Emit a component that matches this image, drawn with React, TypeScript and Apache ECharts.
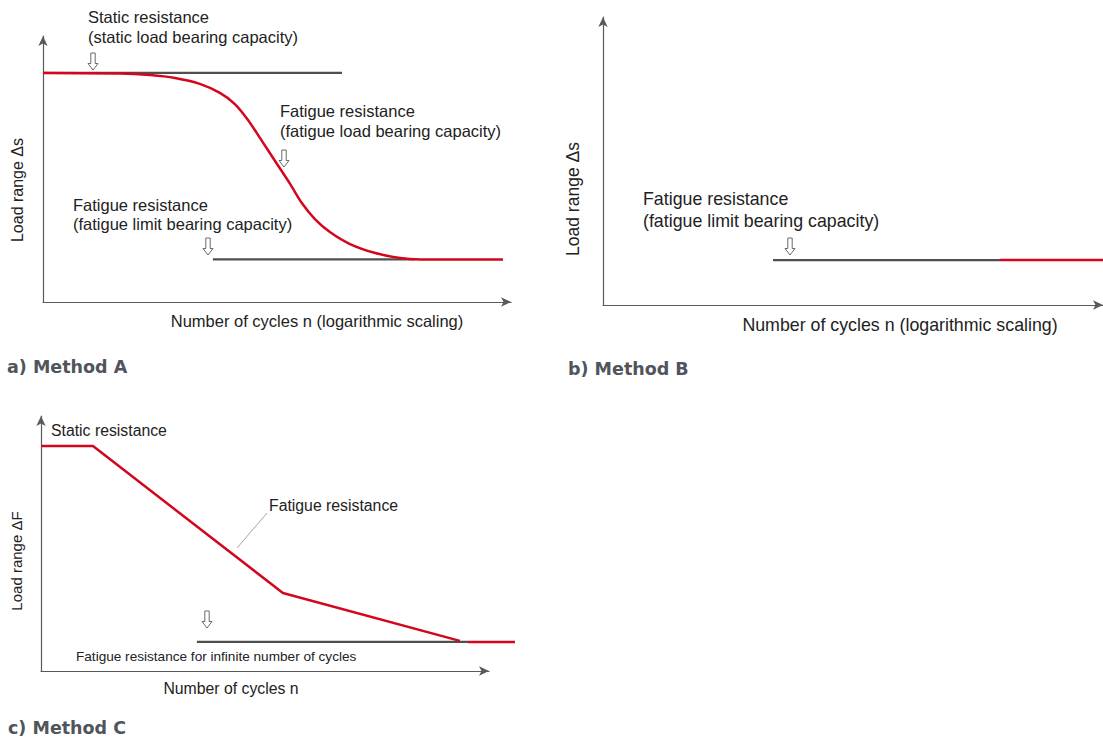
import React, { useEffect, useRef } from "react";
import * as echarts from "echarts";

// ---------- data (abstract units: x = log cycles 0..100, y = load range 0..100) ----------
const methodACurve: number[][] = [
  [0, 86.1], [16.5, 85.9], [22.9, 85.3], [28.2, 84.2], [33.5, 82.0], [37.8, 78.6],
  [41.0, 74.4], [43.8, 68.4], [46.8, 60.5], [50.0, 51.9], [52.8, 44.4], [55.3, 37.2],
  [58.1, 31.2], [61.3, 26.3], [65.6, 21.8], [71.0, 18.4], [76.3, 16.5], [80.6, 16.0],
  [98.3, 16.0],
];
const methodAStatic: number[][] = [[0, 86.1], [63.9, 86.1]];
const methodALimit: number[][] = [[36.3, 16.0], [79.5, 16.0]];

const methodBLimitGray: number[][] = [[34.0, 15.6], [79.4, 15.6]];
const methodBLimitRed: number[][] = [[79.4, 15.6], [100, 15.6]];

const methodCCurve: number[][] = [[0, 88.2], [11.6, 88.2], [54.0, 30.6], [93.5, 11.8]];
const methodCLimitGray: number[][] = [[34.8, 11.4], [95.3, 11.4]];
const methodCLimitRed: number[][] = [[95.3, 11.4], [105.8, 11.4]];

const panelTitles = ["a) Method A", "b) Method B", "c) Method C"];
const xAxisTitles = [
  "Number of cycles n (logarithmic scaling)",
  "Number of cycles n (logarithmic scaling)",
  "Number of cycles n",
];
const yAxisTitles = ["Load range Δs", "Load range Δs", "Load range ΔF"];
const annotationsA = [
  ["Static resistance", "(static load bearing capacity)"],
  ["Fatigue resistance", "(fatigue load bearing capacity)"],
  ["Fatigue resistance", "(fatigue limit bearing capacity)"],
];
const annotationsB = [["Fatigue resistance", "(fatigue limit bearing capacity)"]];
const annotationsC = ["Static resistance", "Fatigue resistance", "Fatigue resistance for infinite number of cycles"];

// ---------- styles ----------
const FONT = '"Liberation Sans", Arial, Helvetica, sans-serif';
const TITLE_FONT = '"DejaVu Sans", sans-serif';
const RED = "#d3061d";
const GRAY = "#4f4f4f";
const AXIS = "#5a5a5a";
const TXT = "#222";

const C_EXT = 1.1; // panel C overlay grid extends beyond the drawn axis
const grids = [
  { left: 43, top: 36, width: 468, height: 266 },
  { left: 603, top: 17, width: 520, height: 288 },
  { left: 41, top: 416, width: 448, height: 255 },
  { left: 41, top: 416, width: 448 * C_EXT, height: 255 },
];

function axis(gridIndex: number) {
  return {
    type: "value",
    gridIndex,
    min: 0,
    max: 100,
    axisLine: {
      show: true,
      onZero: false,
      symbol: ["none", "arrow"],
      symbolSize: [7, 10],
      lineStyle: { color: AXIS, width: 1.2 },
    },
    axisTick: { show: false },
    axisLabel: { show: false },
    splitLine: { show: false },
  };
}

function hiddenAxis(gridIndex: number, max: number) {
  return {
    type: "value",
    gridIndex,
    min: 0,
    max,
    show: false,
  };
}

function line(data: number[][], idx: number, color: string, width: number, smooth: any = false) {
  return {
    type: "line",
    xAxisIndex: idx,
    yAxisIndex: idx,
    data,
    showSymbol: false,
    symbol: "none",
    smooth,
    clip: false,
    silent: true,
    lineStyle: { color, width, cap: "butt" },
    z: color === RED ? 3 : 2,
  };
}

function txt(x: number, y: number, text: string, size: number, extra: any = {}) {
  return {
    type: "text",
    x,
    y,
    z: 20,
    style: {
      text,
      fill: TXT,
      font: `${size}px ${FONT}`,
      align: "left",
      verticalAlign: "middle",
      ...extra,
    },
  };
}

function vtxt(x: number, y: number, text: string, size: number) {
  return {
    type: "text",
    x,
    y,
    rotation: Math.PI / 2,
    z: 20,
    style: {
      text,
      fill: TXT,
      font: `${size}px ${FONT}`,
      align: "center",
      verticalAlign: "middle",
    },
  };
}

function title(x: number, y: number, text: string) {
  return {
    type: "text",
    x,
    y,
    z: 20,
    style: {
      text,
      fill: "#50555b",
      font: `bold 17.5px ${TITLE_FONT}`,
      align: "left",
      verticalAlign: "middle",
    },
  };
}

function hollowArrow(cx: number, top: number) {
  return {
    type: "polygon",
    z: 15,
    shape: {
      points: [
        [cx - 2.2, top], [cx + 2.2, top], [cx + 2.2, top + 10.5], [cx + 5, top + 10.5],
        [cx, top + 17], [cx - 5, top + 10.5], [cx - 2.2, top + 10.5],
      ],
    },
    style: { fill: "#fff", stroke: "#6a6a6a", lineWidth: 1 },
  };
}

export default function App() {
  const ref = useRef<HTMLDivElement>(null);
  useEffect(() => {
    if (!ref.current) return;
    const chart = echarts.init(ref.current, null, { renderer: "svg" });
    const option: any = {
      animation: false,
      backgroundColor: "#fff",
      grid: grids.map((g) => ({ ...g, containLabel: false })),
      xAxis: [axis(0), axis(1), axis(2), hiddenAxis(3, 100 * C_EXT)],
      yAxis: [axis(0), axis(1), axis(2), hiddenAxis(3, 100)],
      series: [
        line(methodAStatic, 0, GRAY, 2.2),
        line(methodALimit, 0, GRAY, 2.2),
        line(methodACurve, 0, RED, 2.5, 0.25),
        line(methodBLimitGray, 1, GRAY, 2.2),
        line(methodBLimitRed, 1, RED, 2.5),
        line(methodCLimitGray, 2, GRAY, 2.2),
        line(methodCCurve, 2, RED, 2.5),
        line(methodCLimitRed, 3, RED, 2.5),
      ],
      graphic: [
        // Panel A
        txt(88, 17, annotationsA[0][0], 16.5),
        txt(88, 37, annotationsA[0][1], 16.5),
        txt(280, 111, annotationsA[1][0], 16.5),
        txt(280, 131, annotationsA[1][1], 16.5),
        txt(73, 205, annotationsA[2][0], 16.5),
        txt(73, 224, annotationsA[2][1], 16.5),
        hollowArrow(93, 53),
        hollowArrow(284, 150),
        hollowArrow(208, 238),
        vtxt(17, 190, yAxisTitles[0], 16),
        txt(317, 321, xAxisTitles[0], 16.5, { align: "center" }),
        title(7, 367, panelTitles[0]),
        // Panel B
        txt(643, 199, annotationsB[0][0], 17.8),
        txt(643, 221, annotationsB[0][1], 17.8),
        hollowArrow(790, 238),
        vtxt(573, 199, yAxisTitles[1], 17.5),
        txt(900, 325, xAxisTitles[1], 17.8, { align: "center" }),
        title(568, 369, panelTitles[1]),
        // Panel C
        txt(51, 430, annotationsC[0], 15.8),
        txt(269, 505, annotationsC[1], 15.8),
        {
          type: "line",
          z: 15,
          shape: { x1: 267, y1: 513, x2: 237, y2: 548 },
          style: { stroke: "#9a9a9a", lineWidth: 0.9 },
        },
        txt(76, 656, annotationsC[2], 13.6),
        hollowArrow(207, 611),
        vtxt(16, 561, yAxisTitles[2], 15),
        txt(231, 688, xAxisTitles[2], 15.8, { align: "center" }),
        title(8, 728, panelTitles[2]),
      ],
    };
    chart.setOption(option);
    return () => chart.dispose();
  }, []);
  return (
    <div
      ref={ref}
      style={{ position: "absolute", left: 0, top: 0, width: 1103, height: 740 }}
    />
  );
}
